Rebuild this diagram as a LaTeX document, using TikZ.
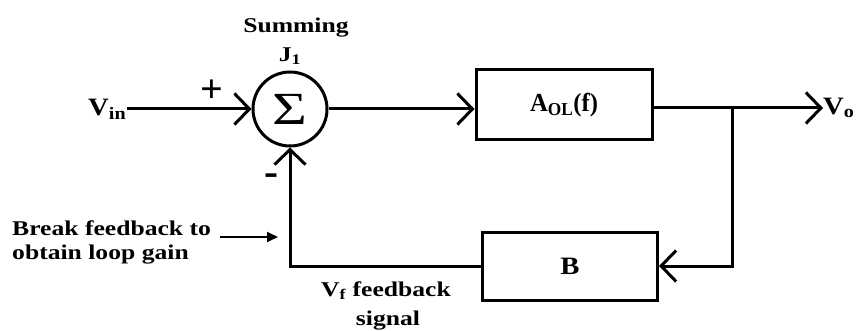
\documentclass[tikz,border=0pt]{standalone}
\usepackage{fontspec}
\setmainfont{Liberation Serif}
\usetikzlibrary{arrows.meta}

% wide bold lettering used for all labels
\newcommand{\wide}[2][1.22]{\scalebox{#1}[1]{#2}}

\tikzset{
  wire/.style={line width=3pt, line join=miter},
  barb/.style={-{Straight Barb[length=15pt,width=31pt,line width=3pt]}},
  block/.style={draw, line width=3pt, rectangle, inner sep=0pt},
  junction/.style={draw, line width=3pt, circle, inner sep=0pt, minimum size=74pt},
  lbl/.style={font=\bfseries\fontsize{25}{28}\selectfont, inner sep=0pt},
  note/.style={font=\bfseries\fontsize{21}{27}\selectfont, inner sep=0pt},
  sign/.style={font=\bfseries\fontsize{40}{40}\selectfont, inner sep=0pt},
  pointer/.style={line width=1.8pt, -{Triangle[length=11pt,width=10pt]}},
}

\begin{document}
\begin{tikzpicture}[x=1pt, y=-1pt]
  \useasboundingbox (0,0) rectangle (856,331);
  \clip (0,0) rectangle (856,331);

  % summing junction and the two gain blocks
  \node[junction] (sum) at (290,109) {\fontsize{46}{46}\selectfont\wide[1.3]{Σ}};
  \node[block, minimum width=176pt, minimum height=70pt] (A) at (564,105)
       {\fontsize{26}{28}\selectfont\bfseries\wide[0.95]{A\textsubscript{OL}(f)}};
  \node[block, minimum width=175pt, minimum height=68pt] (B) at (570,266)
       {\fontsize{25}{28}\selectfont\bfseries\wide[1.15]{B}};

  % signal labels
  \node[lbl, anchor=west] (vin) at (88,109) {\wide[1.15]{V\textsubscript{in}}};
  \node[lbl, anchor=west] (vout) at (823,108) {\wide[1.15]{V\textsubscript{o}}};
  \node[note] (summing) at (296,28) {\wide{Summing}};
  \node[note] (j1) at (290,56) {\wide{J\textsubscript{1}}};
  \node[sign] (plus) at (212,91) {+};
  \node[sign, font=\bfseries\fontsize{42}{42}\selectfont] (minus) at (271,180) {-};

  % feedback annotation
  \node[note, anchor=west] (brk1) at (12,228) {\wide{Break feedback to}};
  \node[note, anchor=west] (brk2) at (12,255) {\wide{obtain loop gain}};
  \node[note] (vf) at (386,291) {\wide{V\textsubscript{f} feedback}};
  \node[note] (sig) at (388,321) {\wide{signal}};

  % junction points of the loop
  \coordinate (tap) at (732,108);
  \coordinate (cutS) at (220,237);
  \coordinate (cut) at (278,237);

  % forward path
  \draw[wire, barb] (vin.east) -- (sum.west);
  \draw[wire, barb] (sum.east) -- (sum.east -| A.west);
  \draw[wire, barb] (A.east |- tap) -- (vout.west);

  % feedback path
  \draw[wire, barb] (tap) |- (B.east);
  \draw[wire, barb] (B.west) -| (sum.south);

  % break point marker
  \draw[pointer] (cutS) -- (cut);
\end{tikzpicture}
\end{document}
